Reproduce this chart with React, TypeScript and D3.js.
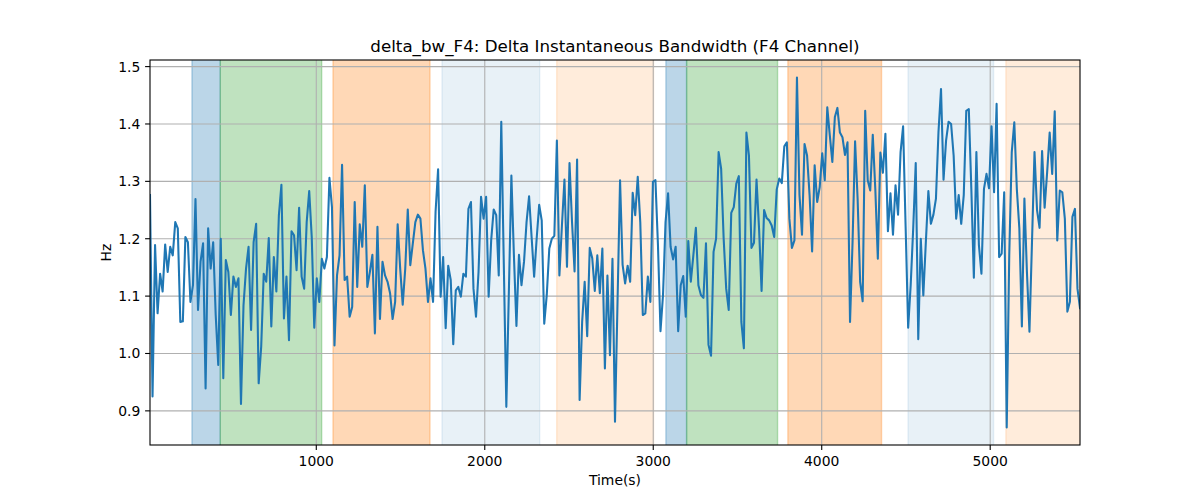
import React, {Component} from 'react';
import * as d3 from "d3"

// sampling of the F4 channel (seconds)
const startTime = 13
const sampleStep = 15

const bandwidthValues = [
  1.276, 0.925, 1.189, 1.070, 1.139, 1.108, 1.190, 1.142, 1.186, 1.171,
  1.229, 1.218, 1.055, 1.056, 1.203, 1.194, 1.090, 1.119, 1.269, 1.076,
  1.160, 1.192, 0.939, 1.218, 1.148, 1.194, 1.067, 0.980, 1.200, 0.957,
  1.163, 1.142, 1.067, 1.134, 1.116, 1.131, 0.912, 1.084, 1.148, 1.186,
  1.041, 1.194, 1.226, 0.948, 1.012, 1.139,
  1.125, 1.201, 1.047, 1.168, 1.108, 1.241, 1.294, 1.061, 1.134, 1.023,
  1.213, 1.206, 1.145, 1.254, 1.134, 1.113, 1.229, 1.283, 1.203, 1.045,
  1.131, 1.090, 1.165, 1.148, 1.168, 1.306, 1.255, 1.014, 1.136, 1.171,
  1.329, 1.128, 1.134, 1.064, 1.081, 1.264, 1.116, 1.225, 1.186, 1.293,
  1.116, 1.142, 1.172, 1.035, 1.221,
  1.060, 1.160, 1.136, 1.125, 1.105, 1.060, 1.090, 1.225, 1.148, 1.085,
  1.148, 1.251, 1.154, 1.192, 1.229, 1.242, 1.235, 1.180, 1.148, 1.090,
  1.131, 1.090, 1.247, 1.321, 1.099, 1.168, 1.044, 1.153, 1.128, 1.016,
  1.110, 1.116, 1.099, 1.139, 1.134, 1.252, 1.264, 1.113, 1.064, 1.142,
  1.273, 1.235, 1.273, 1.099, 1.197, 1.251,
  1.241, 1.136, 1.404, 1.156, 0.907, 1.107, 1.310, 1.171, 1.048, 1.172,
  1.119, 1.160, 1.229, 1.274, 1.203, 1.134, 1.200, 1.259, 1.232, 1.052,
  1.102, 1.183, 1.200, 1.205, 1.371, 1.136, 1.223, 1.303, 1.151, 1.332,
  1.229, 1.143, 1.338, 0.919, 1.055, 1.125, 1.030, 1.184, 1.166, 1.109,
  1.171, 1.105, 1.183, 0.974, 1.136,
  0.997, 1.165, 0.881, 1.090, 1.302, 1.155, 1.122, 1.153, 1.125, 1.280,
  1.241, 1.308, 1.229, 1.067, 1.070, 1.134, 1.090, 1.299, 1.302, 1.189,
  1.039, 1.102, 1.229, 1.279, 1.186, 1.164, 1.186, 1.039, 1.119, 1.135,
  1.064, 1.196, 1.125, 1.171, 1.219, 1.119, 1.102, 1.097, 1.192, 1.015,
  0.996, 1.177, 1.200, 1.351, 1.322, 1.200,
  1.113, 1.076, 1.245, 1.255, 1.296, 1.309, 1.055, 1.009, 1.385, 1.345,
  1.184, 1.193, 1.303, 1.218, 1.109, 1.250, 1.236, 1.232, 1.223, 1.203,
  1.286, 1.305, 1.297, 1.361, 1.368, 1.235, 1.184, 1.197, 1.481, 1.276,
  1.207, 1.365, 1.345, 1.276, 1.178, 1.328, 1.264, 1.290, 1.349, 1.302,
  1.429, 1.380, 1.334, 1.412, 1.428,
  1.385, 1.377, 1.346, 1.368, 1.055, 1.194, 1.370, 1.270, 1.125, 1.091,
  1.423, 1.302, 1.284, 1.381, 1.287, 1.165, 1.350, 1.315, 1.383, 1.213,
  1.279, 1.207, 1.293, 1.242, 1.351, 1.396, 1.221, 1.045, 1.119, 1.218,
  1.332, 1.025, 1.200, 1.101, 1.194, 1.283, 1.226, 1.242, 1.270, 1.386,
  1.461, 1.303, 1.371, 1.404, 1.400, 1.345,
  1.235, 1.276, 1.226, 1.276, 1.423, 1.426, 1.287, 1.132, 1.351, 1.189,
  1.139, 1.287, 1.313, 1.288, 1.396, 1.281, 1.435, 1.168, 1.174, 1.281,
  0.871, 1.171, 1.351, 1.403, 1.287, 1.218, 1.047, 1.270, 1.142, 1.038,
  1.194, 1.351, 1.250, 1.219, 1.353, 1.254, 1.316, 1.385, 1.313, 1.422,
  1.197, 1.284, 1.281, 1.235, 1.073, 1.090, 1.238, 1.252, 1.113, 1.079,
]

// shaded phases
const spanStarts = [262, 430, 1099, 1746, 2427, 3075, 3198, 3799, 4512, 5093]
const spanEnds = [430, 1032, 1675, 2326, 3002, 3198, 3738, 4355, 5020, 5600]
const spanKinds = ["blue", "green", "orange", "lightblue", "lightorange",
                   "blue", "green", "orange", "lightblue", "lightorange"]

const xTicks = [1000, 2000, 3000, 4000, 5000]
const yTicks = [0.9, 1.0, 1.1, 1.2, 1.3, 1.4, 1.5]

const spanStyle: {[k: string]: {color: string, alpha: number}} = {
  blue: {color: "#1f77b4", alpha: 0.3},
  green: {color: "#2ca02c", alpha: 0.3},
  orange: {color: "#ff7f0e", alpha: 0.3},
  lightblue: {color: "#1f77b4", alpha: 0.1},
  lightorange: {color: "#ff7f0e", alpha: 0.15},
}

const FONT = "'DejaVu Sans', sans-serif"

class DeltaBandwidthChart extends Component<{}, {}> {
  box = React.createRef<HTMLDivElement>()

  padding = {
    width: 1200,
    height: 500,
    left: 150,
    right: 1080,
    top: 60,
    bottom: 445,
  }

  drawChart() {
    const p = this.padding
    const points = bandwidthValues.map((v, i) => ({t: startTime + i * sampleStep, v}))

    const xScale = d3.scaleLinear()
      .domain([points[0].t, points[points.length - 1].t])
      .range([p.left, p.right])
    const [vmin, vmax] = d3.extent(bandwidthValues) as [number, number]
    const margin = (vmax - vmin) * 0.05
    const yScale = d3.scaleLinear()
      .domain([vmin - margin, vmax + margin])
      .range([p.bottom, p.top])

    const root = d3.select(this.box.current)
    root.selectAll("*").remove()

    const svg = root.append("svg")
      .attr("width", p.width)
      .attr("height", p.height)
      .style("display", "block")
      .style("font-family", FONT)

    svg.append("rect").attr("width", p.width).attr("height", p.height).attr("fill", "white")

    svg.append("clipPath").attr("id", "plot-clip")
      .append("rect")
      .attr("x", p.left).attr("y", p.top)
      .attr("width", p.right - p.left).attr("height", p.bottom - p.top)

    const plot = svg.append("g").attr("clip-path", "url(#plot-clip)")

    // phases
    plot.selectAll(".span")
      .data(spanStarts.map((s, i) => ({s, e: spanEnds[i], kind: spanKinds[i]})))
      .join("rect")
      .attr("class", "span")
      .attr("x", d => xScale(d.s))
      .attr("y", yScale.range()[1] - 5)
      .attr("width", d => xScale(d.e) - xScale(d.s))
      .attr("height", p.bottom - p.top + 10)
      .attr("fill", d => spanStyle[d.kind].color)
      .attr("fill-opacity", d => spanStyle[d.kind].alpha)
      .attr("stroke", d => spanStyle[d.kind].color)
      .attr("stroke-opacity", d => spanStyle[d.kind].alpha)
      .attr("stroke-width", 1.4)

    // grid
    plot.selectAll(".gx").data(xTicks).join("line")
      .attr("x1", d => xScale(d)).attr("x2", d => xScale(d))
      .attr("y1", p.top).attr("y2", p.bottom)
      .attr("stroke", "#b0b0b0").attr("stroke-width", 1.1)
    plot.selectAll(".gy").data(yTicks).join("line")
      .attr("x1", p.left).attr("x2", p.right)
      .attr("y1", d => yScale(d)).attr("y2", d => yScale(d))
      .attr("stroke", "#b0b0b0").attr("stroke-width", 1.1)

    const line = d3.line<{t: number, v: number}>()
      .x(d => xScale(d.t))
      .y(d => yScale(d.v))

    plot.append("path")
      .datum(points)
      .attr("d", line)
      .attr("fill", "none")
      .attr("stroke", "#1f77b4")
      .attr("stroke-width", 2.08)
      .attr("stroke-linejoin", "round")
      .attr("stroke-linecap", "square")

    // spines
    svg.append("rect")
      .attr("x", p.left).attr("y", p.top)
      .attr("width", p.right - p.left).attr("height", p.bottom - p.top)
      .attr("fill", "none").attr("stroke", "black").attr("stroke-width", 1.1)

    // ticks
    svg.selectAll(".tx").data(xTicks).join("line")
      .attr("x1", d => xScale(d)).attr("x2", d => xScale(d))
      .attr("y1", p.bottom).attr("y2", p.bottom + 4.9)
      .attr("stroke", "black").attr("stroke-width", 1.1)
    svg.selectAll(".lx").data(xTicks).join("text")
      .attr("x", d => xScale(d)).attr("y", p.bottom + 20.5)
      .attr("text-anchor", "middle")
      .attr("font-size", 13.9)
      .text(d => d)

    svg.selectAll(".ty").data(yTicks).join("line")
      .attr("x1", p.left - 4.9).attr("x2", p.left)
      .attr("y1", d => yScale(d)).attr("y2", d => yScale(d))
      .attr("stroke", "black").attr("stroke-width", 1.1)
    svg.selectAll(".ly").data(yTicks).join("text")
      .attr("x", p.left - 9.7).attr("y", d => yScale(d) + 5)
      .attr("text-anchor", "end")
      .attr("font-size", 13.9)
      .text(d => d3.format(".1f")(d))

    // labels
    svg.append("text")
      .attr("x", (p.left + p.right) / 2).attr("y", 51.5)
      .attr("text-anchor", "middle")
      .attr("font-size", 16.7)
      .text("delta_bw_F4: Delta Instantaneous Bandwidth (F4 Channel)")
    svg.append("text")
      .attr("x", (p.left + p.right) / 2).attr("y", 485)
      .attr("text-anchor", "middle")
      .attr("font-size", 13.9)
      .text("Time(s)")
    svg.append("text")
      .attr("transform", `translate(110.5,${(p.top + p.bottom) / 2}) rotate(-90)`)
      .attr("text-anchor", "middle")
      .attr("font-size", 13.9)
      .text("Hz")
  }

  componentDidMount() {
    document.body.style.margin = "0"
    this.drawChart()
  }

  render() {
    return <div ref={this.box} id="DeltaBandwidthChart"></div>
  }
}

export default function App() {
  return <DeltaBandwidthChart />
}
